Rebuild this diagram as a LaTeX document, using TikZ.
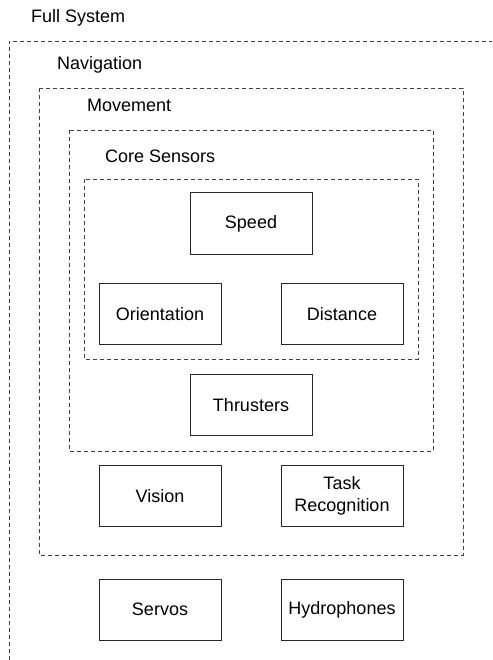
\documentclass[tikz,border=0pt]{standalone}
\usepackage{fontspec}
\setmainfont{Liberation Sans}
\usepackage{tikz}
\usetikzlibrary{positioning}

\begin{document}
\begin{tikzpicture}[
    x=1pt, y=1pt,
    unit/.style={rectangle, draw=black!85, line width=1pt, minimum width=122pt, minimum height=61pt, text centered, align=center, inner sep=0pt, font=\fontsize{18}{22}\selectfont},
    group/.style={draw=black!75, line width=0.9pt, dash pattern=on 4pt off 3pt},
    title/.style={anchor=west, inner sep=0pt, font=\fontsize{18}{20}\selectfont}
]
    \clip (0,0) rectangle (492,-660);

    % Nested groups
    \draw[group] (500,-41) -- (9,-41) -- (9,-670);
    \draw[group] (39,-88) rectangle (463,-555);
    \draw[group] (69,-130) rectangle (433,-451);
    \draw[group] (84,-179) rectangle (418,-359);

    \node[title] (fullsys) at (31,-18) {Full System};
    \node[title] (navlabel) at (57,-65) {Navigation};
    \node[title] (movlabel) at (87,-105) {Movement};
    \node[title] (corelabel) at (105,-156) {Core Sensors};

    % Units
    \node[unit] (speed) at (251,-223.5) {Speed};
    \node[unit] (orient) at (160,-314) {Orientation};
    \node[unit, right=59pt of orient] (dist) {Distance};
    \node[unit] (thrust) at (251,-405) {Thrusters};
    \node[unit] (vision) at (160,-496) {Vision};
    \node[unit, right=59pt of vision] (task) {Task\\Recognition};
    \node[unit] (servos) at (160,-609.5) {Servos};
    \node[unit, right=59pt of servos] (hydro) {Hydrophones};
\end{tikzpicture}
\end{document}
